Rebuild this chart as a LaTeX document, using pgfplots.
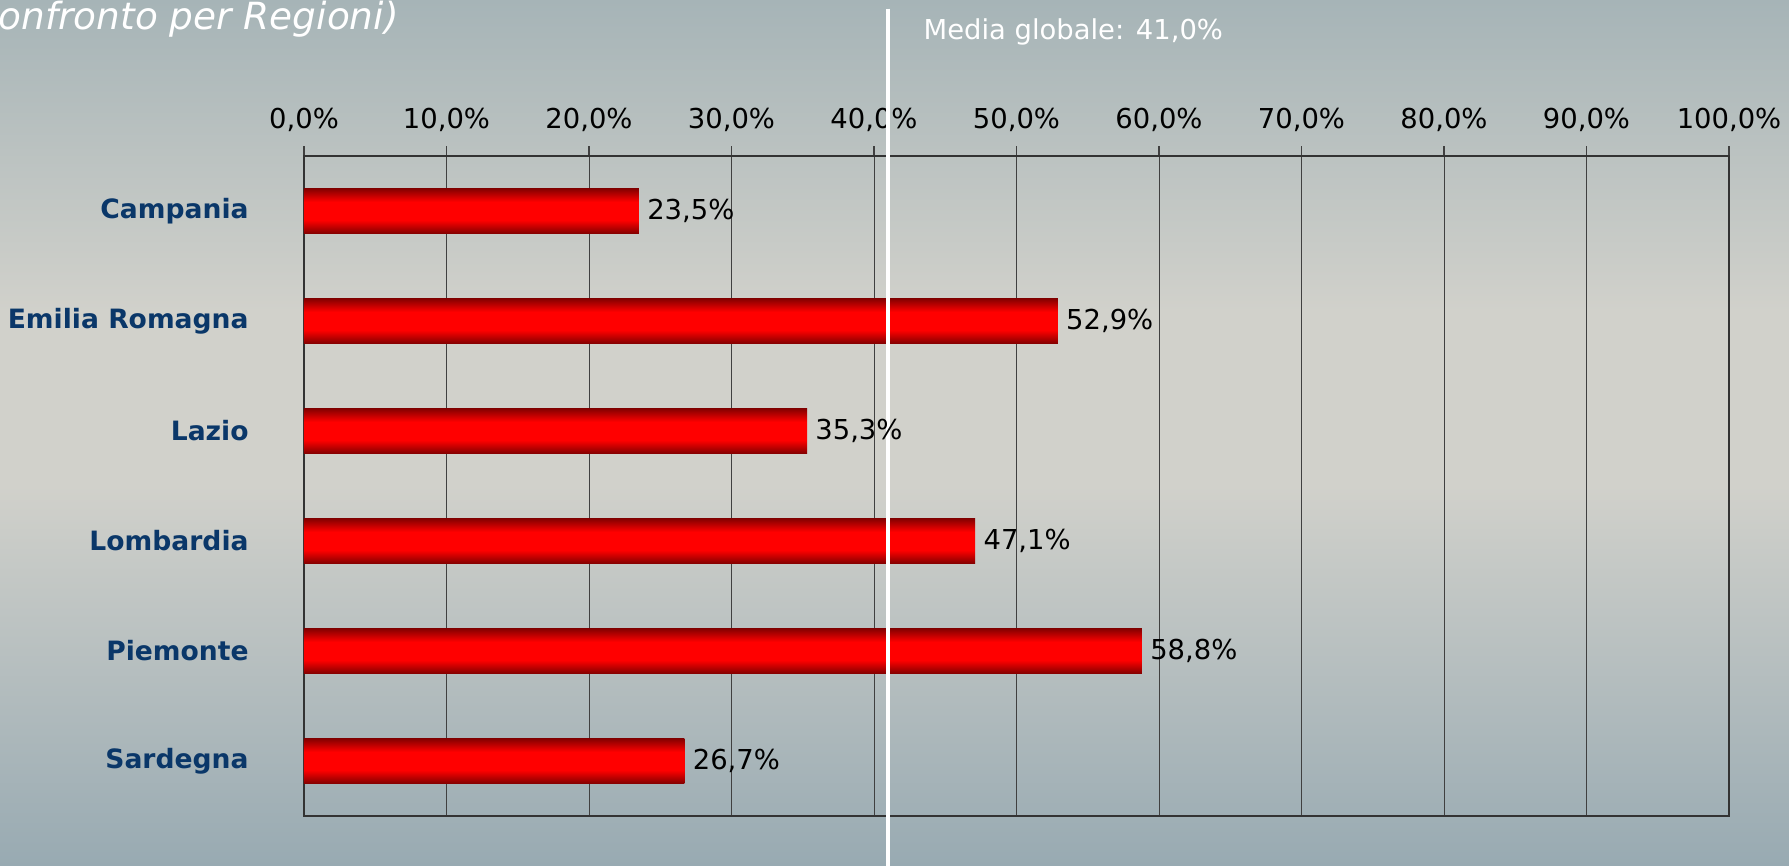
\documentclass[border=0pt]{standalone}
\usepackage{pgfplots}
\pgfplotsset{compat=1.18}
\usepackage{fontspec}
\setmainfont{DejaVu Sans}
\definecolor{bgtop}{RGB}{166,180,183}
\definecolor{bgmid}{RGB}{209,209,203}
\definecolor{bgbot}{RGB}{152,170,178}
\definecolor{catblue}{RGB}{10,55,105}
\definecolor{bardark}{RGB}{128,0,0}
\definecolor{barbright}{RGB}{255,0,0}
\pgfdeclareverticalshading{bgshade}{100bp}{color(0bp)=(bgbot); color(25bp)=(bgbot); color(47bp)=(bgmid); color(57bp)=(bgmid); color(75bp)=(bgtop); color(100bp)=(bgtop)}
\pgfdeclareverticalshading{barshade}{100bp}{color(0bp)=(bardark); color(25bp)=(bardark); color(40bp)=(barbright); color(60bp)=(barbright); color(75bp)=(bardark); color(100bp)=(bardark)}
\newcommand{\tfont}{\fontsize{13.7pt}{16pt}\selectfont}
\pgfplotsset{barstyle/.style={xbar, draw=none, shade, shading=barshade, bar width=22.85pt, bar shift=0pt, mark=none,
    nodes near coords={\pgfmathprintnumber[fixed,fixed zerofill,precision=1,use comma,assume math mode=true]{\pgfplotspointmeta}\%},
    nodes near coords align={horizontal},
    every node near coord/.append style={font=\tfont, text=black, anchor=west, inner sep=0pt, xshift=4pt}}}
\begin{document}
\begin{tikzpicture}
\useasboundingbox (0,0) rectangle (894.5pt,433pt);
\begin{scope}
\clip (0,0) rectangle (894.5pt,433pt);
\shade[shading=bgshade] (0,0) rectangle (894.5pt,433pt);
\node[anchor=base east, inner sep=0pt, text=white, font=\fontsize{18.7pt}{22pt}\selectfont\itshape] at (199.5pt,418pt) {(Confronto per Regioni)};
\begin{axis}[
  at={(152pt,25pt)}, anchor=south west,
  scale only axis, width=712.5pt, height=330pt,
  xmin=0, xmax=100, ymin=-0.5, ymax=5.5, y dir=reverse,
  clip=false,
  xtick={0,10,...,100},
  xticklabels={{0,0\%},{10,0\%},{20,0\%},{30,0\%},{40,0\%},{50,0\%},{60,0\%},{70,0\%},{80,0\%},{90,0\%},{100,0\%}},
  xtick pos=right, xticklabel pos=right,
  tick align=outside, major tick length=5pt,
  x tick style={black!75, line width=0.6pt},
  x tick label style={font=\tfont, text=black, inner sep=0pt, anchor=base, yshift=9pt},
  ytick={0,1,2,3,4,5},
  yticklabels={Campania,Emilia Romagna,Lazio,Lombardia,Piemonte,Sardegna},
  y tick style={draw=none},
  y tick label style={font=\fontsize{13.3pt}{16pt}\selectfont\bfseries, text=catblue, inner sep=0pt, anchor=east, xshift=-22.5pt},
  xmajorgrids, major grid style={black!75, line width=0.5pt},
  axis line style={black!80, line width=0.6pt},
]
\addplot[barstyle] coordinates {(23.5,0)};
\addplot[barstyle] coordinates {(52.9,1)};
\addplot[barstyle] coordinates {(35.3,2)};
\addplot[barstyle] coordinates {(47.1,3)};
\addplot[barstyle] coordinates {(58.8,4)};
\addplot[barstyle] coordinates {(26.7,5)};
\draw[white, line width=2pt] (axis cs:41,-1.84) -- (axis cs:41,6.5);
\node[anchor=base west, inner sep=0pt, text=white, font=\tfont, xshift=17.5pt] at (axis cs:41,-1.5636) {Media globale: 41,0\%};
\end{axis}
\end{scope}
\end{tikzpicture}
\end{document}
